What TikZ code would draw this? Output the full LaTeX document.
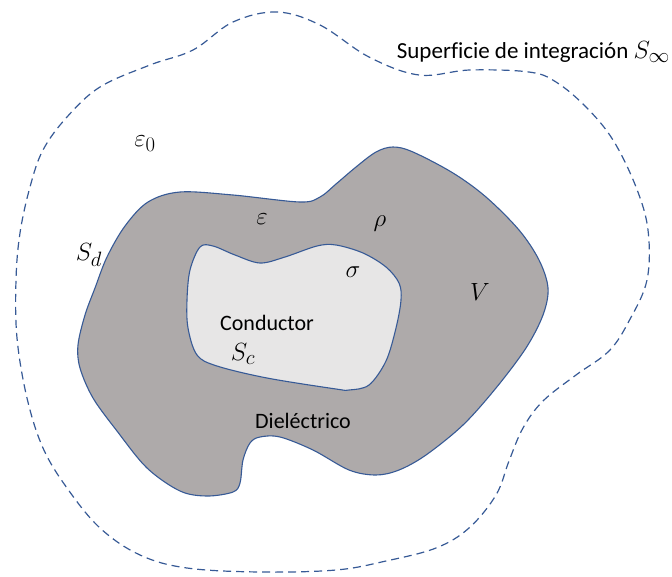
\documentclass[tikz,border=0pt]{standalone}
\usepackage{fontspec}
\setmainfont{Carlito}[Ligatures=NoCommon]
\usepackage{xcolor}
\usepackage{tikz}
\definecolor{edgeblue}{RGB}{55,90,150}
\definecolor{dielgray}{RGB}{174,170,170}
\definecolor{condgray}{RGB}{231,230,230}
\tikzset{
  surf/.style={draw=edgeblue, line width=1.2pt, dash pattern=on 8pt off 5pt},
  diel/.style={draw=edgeblue, line width=1.1pt, fill=dielgray},
  cond/.style={draw=edgeblue, line width=1.1pt, fill=condgray},
  txt/.style={font=\fontsize{22}{25}\selectfont, inner sep=0pt},
  sym/.style={font=\fontsize{30}{34}\selectfont, inner sep=0pt},
}

\begin{document}
\begin{tikzpicture}[x=1pt,y=-1pt]
\useasboundingbox (0,0) rectangle (672,576);
% integration surface
\draw[surf] plot[smooth cycle, tension=0.6] coordinates {
  (277,12) (320,25) (369,57) (419,75) (470,70) (529,72) (556,82) (586,107)
  (613,140) (636,187) (648,230) (647,280) (629,321) (609,351) (576,375)
  (543,401) (523,428) (509,461) (496,495) (469,528) (436,548) (386,561)
  (336,570) (260,572) (187,568) (140,555) (100,528) (67,488) (43,448)
  (27,398) (17,338) (16,280) (20,233) (30,187) (43,150) (67,117) (100,87)
  (150,65) (193,50) (233,22)};
% dielectric
\draw[diel] plot[smooth cycle, tension=0.55] coordinates {
  (180,192) (233,195) (300,202) (320,197) (336,184) (356,167) (376,152)
  (393,147) (413,152) (453,173) (486,197) (519,230) (539,260) (548,288)
  (543,315) (526,348) (496,388) (463,425) (426,455) (399,470) (376,475)
  (349,470) (313,450) (280,437) (260,437) (250,443) (243,460) (240,483)
  (233,492) (207,496) (180,491) (147,468) (117,431) (93,398) (80,368)
  (78,345) (85,315) (95,288) (107,257) (125,226) (148,202)};
% conductor
\draw[cond] plot[smooth cycle, tension=0.55] coordinates {
  (200,247) (213,246) (235,255) (260,263) (285,257) (317,246) (336,245)
  (363,253) (386,267) (399,283) (401,300) (396,328) (386,361) (369,385)
  (349,390) (336,389) (267,378) (217,366) (197,355) (188,328) (187,300)
  (190,270)};
% labels
\node[txt, anchor=east, font=\fontsize{23}{27}\selectfont] (sinf) at (670,52) {Superficie de integración \fontsize{28}{32}\selectfont$S_\infty$};
\node[sym] (eps0) at (145,144) {$\varepsilon_0$};
\node[sym] (eps) at (262,219) {$\varepsilon$};
\node[sym] (rho) at (380,224) {$\rho$};
\node[sym] (sig) at (353,272) {$\sigma$};
\node[sym] (sd) at (89,255) {$S_d$};
\node[sym] (vol) at (480,292) {$V$};
\node[txt] (con) at (267,323) {Conductor};
\node[sym] (sc) at (243,354) {$S_c$};
\node[txt] (die) at (303,421) {Dieléctrico};
\end{tikzpicture}
\end{document}
